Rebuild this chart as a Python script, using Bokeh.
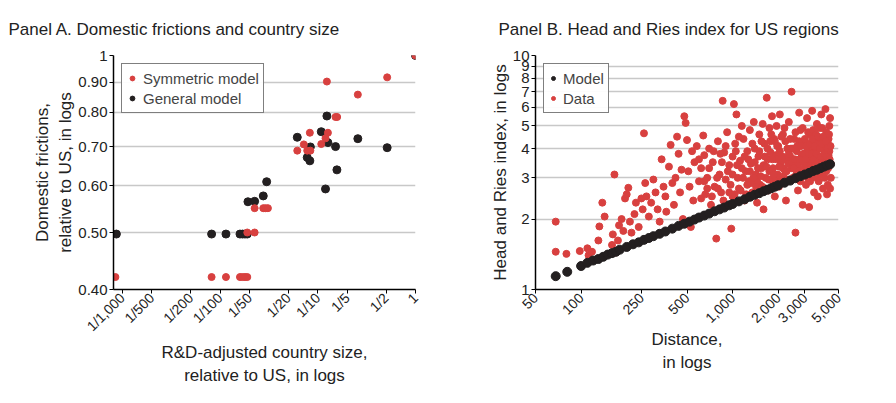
import math
from bokeh.plotting import figure
from bokeh.layouts import row
from bokeh.models import FixedTicker, Legend, LegendItem
from bokeh.embed import file_html
from bokeh.resources import INLINE

RED = "#d8403f"
BLK = "#231f20"

# Panel A
a_ticks = [0.001, 0.002, 0.005, 0.01, 0.02, 0.05, 0.1, 0.2, 0.5, 1]
a_tick_labels = ["1/1,000", "1/500", "1/200", "1/100", "1/50", "1/20", "1/10", "1/5", "1/2", "1"]
a_yticks = [0.4, 0.5, 0.6, 0.7, 0.8, 0.9, 1.0]
a_ytick_labels = ["0.40", "0.50", "0.60", "0.70", "0.80", "0.90", "1"]

sym_x = [0.00085, 0.0082, 0.0115, 0.016, 0.017, 0.018, 0.019, 0.019, 0.0226, 0.0226, 0.0277, 0.0292, 0.0309,
         0.0617, 0.072, 0.078, 0.084, 0.083, 0.1086, 0.12, 0.124, 0.127, 0.152, 0.158, 0.257, 0.513, 1.0]
sym_y = [0.42, 0.42, 0.42, 0.42, 0.42, 0.42, 0.42, 0.50, 0.50, 0.55, 0.55, 0.55, 0.55,
         0.689, 0.706, 0.689, 0.689, 0.739, 0.707, 0.723, 0.903, 0.739, 0.786, 0.786, 0.858, 0.918, 1.0]
gen_x = [0.00087, 0.0082, 0.0115, 0.016, 0.017, 0.018, 0.019, 0.0193, 0.0226, 0.0277, 0.030,
         0.0617, 0.078, 0.083, 0.084, 0.1086, 0.124, 0.127, 0.12, 0.152, 0.157, 0.257, 0.513, 1.0]
gen_y = [0.497, 0.497, 0.497, 0.497, 0.497, 0.497, 0.497, 0.564, 0.565, 0.577, 0.610,
         0.726, 0.671, 0.662, 0.699, 0.742, 0.789, 0.711, 0.593, 0.700, 0.639, 0.722, 0.697, 1.0]

# Panel B
b_xticks = [50, 100, 250, 500, 1000, 2000, 3000, 5000]
b_xtick_labels = ["50", "100", "250", "500", "1,000", "2,000", "3,000", "5,000"]
b_yticks = [1, 2, 3, 4, 5, 6, 7, 8, 9, 10]

model_d = [68, 81, 100, 110, 120, 130, 140, 150, 160, 170, 180, 200, 220, 240, 260, 280, 300, 330, 360, 400,
           440, 480, 520, 560, 600, 650, 700, 760, 820, 880, 950, 1000, 1100, 1200, 1300, 1400, 1500, 1600,
           1700, 1800, 1900, 2000, 2200, 2400, 2600, 2800, 3000, 3200, 3400, 3600, 3800, 4000, 4200, 4400]
model_v = [1.14, 1.19, 1.26, 1.30, 1.33, 1.35, 1.38, 1.41, 1.43, 1.45, 1.48, 1.52, 1.56, 1.59, 1.63, 1.66, 1.69,
           1.73, 1.77, 1.82, 1.87, 1.91, 1.95, 1.99, 2.03, 2.07, 2.11, 2.16, 2.20, 2.24, 2.29, 2.32, 2.38, 2.43,
           2.49, 2.54, 2.58, 2.63, 2.67, 2.71, 2.75, 2.79, 2.86, 2.92, 2.99, 3.05, 3.10, 3.15, 3.21, 3.25, 3.30,
           3.35, 3.39, 3.43]

data_pts = [(68,1.95),(68,1.45),(80,1.42),(98,1.46),(110,1.50),(112,1.40),(118,1.45),(130,1.62),(132,1.86),(138,2.35),
(143,2.05),(160,1.55),(162,1.72),(166,3.1),(170,1.44),(175,1.62),(178,1.88),(185,2.0),(190,1.78),(195,2.45),(200,2.55),
(205,2.72),(210,1.95),(215,1.75),(225,2.1),(230,2.35),(240,1.85),(250,2.45),(255,2.2),(260,4.65),(265,2.85),(270,2.5),
(275,1.65),(280,2.05),(290,2.35),(300,2.95),(310,2.6),(320,2.2),(330,1.95),(340,3.6),(350,2.75),(360,2.5),(365,2.15),
(380,3.35),(390,4.15),(400,2.85),(410,2.3),(420,3.0),(430,4.5),(440,3.8),(450,2.6),(460,3.25),(470,2.0),(480,5.5),
(490,5.15),(500,4.35),(510,3.2),(520,2.75),(530,1.85),(540,3.9),(550,2.4),(560,3.5),(580,4.1),(600,2.9),(620,3.3),
(640,4.55),(650,3.75),(660,2.55),(680,3.0),(700,4.0),(720,2.3),(740,3.5),(760,2.75),(780,1.65),(800,4.3),(820,3.1),
(840,2.6),(860,6.4),(880,3.85),(900,2.95),(920,4.7),(950,3.4),(980,1.82),(1000,2.5),(1000,3.7),(1020,6.2),(1040,4.2),
(1060,5.6),(1080,3.0),(1100,2.7),(1120,3.55),(1150,5.0),(1180,4.4),(1200,2.4),(1220,3.2),(1250,3.9),(1280,2.9),
(1300,4.8),(1320,3.45),(1350,2.6),(1380,5.2),(1400,4.0),(1420,3.1),(1450,2.35),(1480,3.7),(1500,4.6),(1520,2.8),
(1550,3.3),(1580,5.1),(1600,2.2),(1620,4.2),(1650,3.0),(1680,6.6),(1700,3.6),(1720,2.65),(1750,4.9),(1780,3.85),
(1800,2.95),(1820,5.5),(1850,3.3),(1880,4.4),(1900,2.5),(1920,3.75),(1950,5.0),(1980,3.1),(2000,4.1),(2020,2.75),
(2050,5.6),(2080,3.5),(2100,2.9),(2150,4.6),(2200,3.25),(2250,2.4),(2300,4.0),(2350,5.2),(2400,3.7),(2450,7.0),
(2500,3.0),(2550,4.4),(2600,1.75),(2650,3.5),(2700,2.65),(2750,5.7),(2800,4.8),(2850,3.2),(2900,2.3),(2950,4.2),
(3000,3.8),(3050,2.8),(3100,5.4),(3150,3.4),(3200,2.25),(3250,4.6),(3300,3.0),(3350,5.8),(3400,3.9),(3450,2.6),
(3500,4.3),(3550,3.3),(3600,5.1),(3650,2.5),(3700,3.7),(3750,4.9),(3800,3.1),(3850,5.6),(3900,4.0),(3950,2.7),
(4000,3.5),(4050,4.5),(4100,5.9),(4150,3.2),(4200,2.55),(4250,4.2),(4300,3.75),(4350,5.0),(4400,2.7),(4450,3.45),
(600,3.6),(650,2.9),(700,3.3),(750,3.9),(800,2.7),(850,3.5),(900,4.1),(950,2.6),(1000,3.1),(1050,3.9),(1100,4.5),
(1150,3.3),(1200,3.7),(1250,2.8),(1300,3.2),(1350,4.2),(1400,3.5),(1450,2.9),(1500,3.9),(1550,4.3),(1600,3.4),
(1650,2.7),(1700,4.0),(1750,3.2),(1800,4.6),(1850,2.9),(1900,4.3),(1950,3.6),(2000,3.0),(2050,3.9),(2100,4.5),
(2150,3.3),(2200,4.9),(2250,3.6),(2300,2.9),(2350,3.8),(2400,4.4),(2450,3.3),(2500,4.0),(2550,3.0),(2600,4.7),
(2650,3.9),(2700,3.4),(2750,4.3),(2800,2.9),(2850,3.7),(2900,4.9),(2950,3.5),(3000,4.4),(3050,3.1),(3100,3.9),
(3150,4.7),(3200,3.6),(3250,2.9),(3300,4.1),(3350,3.5),(3400,4.8),(3450,3.3),(3500,3.9),(3550,4.6),(3600,3.0),
(3650,4.2),(3700,2.9),(3750,3.6),(3800,4.4),(3850,3.4),(3900,4.9),(3950,3.7),(4000,4.1),(4050,3.0),(4100,3.8),
(4150,4.7),(4200,3.5),(4250,2.8),(4300,4.4),(4350,3.9),(4400,5.4),(4450,3.0),
(620,2.45),(680,2.7),(730,2.5),(790,3.0),(830,3.8),(870,2.4),(930,3.2),(970,2.8),(1030,2.55),(1070,3.4),(1130,2.65),
(1170,3.0),(1230,2.55),(1270,3.6),(1330,2.85),(1370,3.0),(1430,2.75),(1470,3.3),(1530,3.05),(1570,2.75),(1630,3.7),
(1670,3.35),(1730,2.95),(1770,4.3),(1830,3.6),(1870,3.1),(1930,2.9),(1970,4.1),(2030,3.35),(2070,2.9),(2130,3.7),
(2170,3.05),(2230,4.3),(2270,3.2),(2330,3.45),(2370,2.95),(2430,4.0),(2470,3.5),(2530,3.3),(2570,3.6),(2630,3.1),
(2670,4.1),(2730,3.2),(2770,3.6),(2830,4.1),(2870,3.1),(2930,3.8),(2970,3.3),(3030,3.6),(3070,4.1),(3130,3.0),
(3170,3.8),(3230,4.2),(3270,3.3),(3330,3.8),(3370,4.4),(3430,3.6),(3470,4.1),(3530,3.4),(3570,3.8),(3630,3.5),
(3670,4.5),(3730,3.4),(3770,4.0),(3830,3.7),(3870,4.2),(3930,3.2),(3970,4.5),(4030,3.8),(4070,3.4),(4130,4.3),
(4170,3.7),(4230,4.0),(4270,3.3),(4330,4.6),(4370,3.6),(4430,4.1)]
data_d = [p[0] for p in data_pts]
data_v = [p[1] for p in data_pts]

FONT = "Liberation Sans"

def style(p):
    p.title.text_font = FONT
    p.title.text_font_size = "17px"
    p.title.text_font_style = "normal"
    p.title.text_color = "#222222"
    p.title.standoff = 34
    for ax in (p.xaxis[0], p.yaxis[0]):
        ax.axis_label_text_font = FONT
        ax.axis_label_text_font_size = "17px"
        ax.axis_label_text_font_style = "normal"
        ax.axis_label_text_color = "#222222"
        ax.axis_label_standoff = 0
        ax.major_label_standoff = 2
        ax.major_label_text_font = FONT
        ax.major_label_text_font_size = "14px"
        ax.major_label_text_color = "#222222"
        ax.axis_line_width = 1.5
        ax.axis_line_color = "black"
        ax.major_tick_line_color = "black"
        ax.major_tick_in = 0
        ax.major_tick_out = 4
        ax.minor_tick_line_color = None
    p.yaxis[0].major_label_text_font_size = "15px"
    p.xgrid.grid_line_color = None
    p.ygrid.grid_line_color = "#c8c8c8"
    p.ygrid.grid_line_width = 1.5
    p.outline_line_color = None
    p.background_fill_color = "white"

# Panel A figure
pa = figure(width=453, height=387, x_axis_type="log", y_axis_type="log",
            x_range=(10**-3.09, 1.0), y_range=(0.4, 1.0),
            output_backend="svg", toolbar_location=None,
            title="Panel A. Domestic frictions and country size",
            min_border_left=113, min_border_right=38, min_border_top=0, min_border_bottom=0)
pa.xaxis.ticker = FixedTicker(ticks=a_ticks)
pa.xaxis.major_label_overrides = {t: l for t, l in zip(a_ticks, a_tick_labels)}
pa.yaxis.ticker = FixedTicker(ticks=a_yticks)
pa.yaxis.major_label_overrides = {t: l for t, l in zip(a_yticks, a_ytick_labels)}
pa.xaxis.major_label_orientation = math.pi / 4
pa.xaxis.axis_label = "R&D-adjusted country size,\nrelative to US, in logs"
pa.yaxis.axis_label = "Domestic frictions,\nrelative to US, in logs"
style(pa)
pa.title.offset = -105
gA = pa.scatter(gen_x, gen_y, size=8, color=BLK)
sA = pa.scatter(sym_x, sym_y, size=7, color=RED, marker="circle")
legA = Legend(items=[LegendItem(label="Symmetric model", renderers=[sA]),
                     LegendItem(label="General model", renderers=[gA])],
              location="top_left", label_text_font=FONT, label_text_font_size="15px",
              border_line_color="black", border_line_width=1.5, padding=4, spacing=0,
              glyph_width=12, label_height=16, margin=8)
pa.add_layout(legA)

# Panel B figure
pb = figure(width=443, height=387, x_axis_type="log", y_axis_type="log",
            x_range=(50, 5000), y_range=(1, 10),
            output_backend="svg", toolbar_location=None,
            title="Panel B. Head and Ries index for US regions",
            min_border_left=82, min_border_right=58, min_border_top=0, min_border_bottom=0)
pb.xaxis.ticker = FixedTicker(ticks=b_xticks)
pb.xaxis.major_label_overrides = {t: l for t, l in zip(b_xticks, b_xtick_labels)}
pb.yaxis.ticker = FixedTicker(ticks=b_yticks)
pb.xaxis.major_label_orientation = math.pi / 4
pb.xaxis.axis_label = "Distance,\nin logs"
pb.yaxis.axis_label = "Head and Ries index, in logs"
style(pb)
pb.title.offset = -37
dB = pb.scatter(data_d, data_v, size=7, color=RED, marker="circle")
mB = pb.scatter(model_d, model_v, size=9, color=BLK)
legB = Legend(items=[LegendItem(label="Model", renderers=[mB]),
                     LegendItem(label="Data", renderers=[dB])],
              location="top_left", label_text_font=FONT, label_text_font_size="15px",
              border_line_color="black", border_line_width=1.5, padding=4, spacing=0,
              glyph_width=10, label_height=16, margin=8)
pb.add_layout(legB)

layout = row(pa, pb)
open("out.html", "w").write(file_html(layout, INLINE))
